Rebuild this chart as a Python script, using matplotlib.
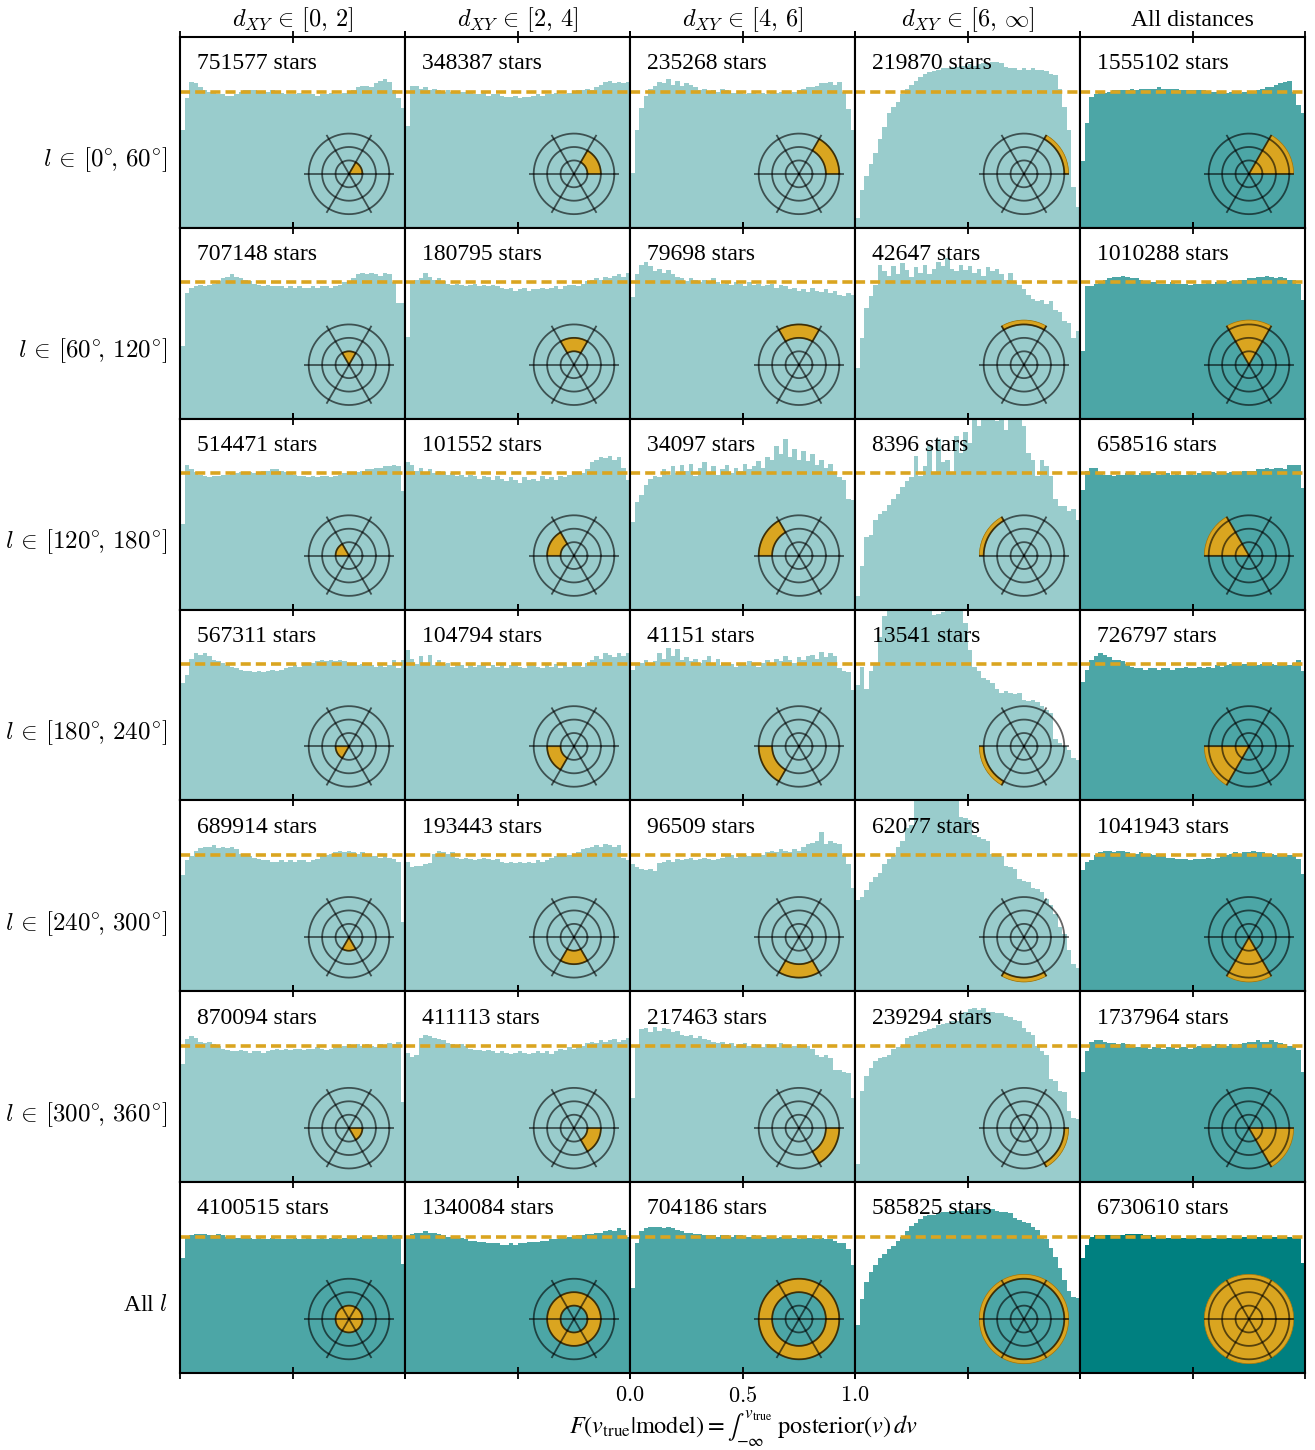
import numpy as np
import matplotlib.pyplot as plt

plt.rcParams['font.family'] = 'serif'
plt.rcParams['font.serif'] = ['Liberation Serif', 'DejaVu Serif']
plt.rcParams['mathtext.fontset'] = 'cm'

col_titles = [r'$d_{XY} \,\in\, [0,\, 2]$', r'$d_{XY} \,\in\, [2,\, 4]$', r'$d_{XY} \,\in\, [4,\, 6]$',
              r'$d_{XY} \,\in\, [6,\, \infty]$', 'All distances']
row_titles = [r'$l \,\in\, [0^{\circ}\!,\, 60^{\circ}]$', r'$l \,\in\, [60^{\circ}\!,\, 120^{\circ}]$',
              r'$l \,\in\, [120^{\circ}\!,\, 180^{\circ}]$', r'$l \,\in\, [180^{\circ}\!,\, 240^{\circ}]$',
              r'$l \,\in\, [240^{\circ}\!,\, 300^{\circ}]$', r'$l \,\in\, [300^{\circ}\!,\, 360^{\circ}]$',
              r'All $l$']
x_label = r'$F(v_{\rm true}|{\rm model}) = \int_{-\infty}^{v_{\rm true}}\ {\rm posterior}(v)\,dv$'

# radial (kpc) and azimuthal (deg) ranges of each cell, None = all
d_ranges = [(0, 2), (2, 4), (4, 6), (6, np.inf), None]
l_ranges = [(0, 60), (60, 120), (120, 180), (180, 240), (240, 300), (300, 360), None]

n_stars = [
    [751577, 348387, 235268, 219870, 1555102],
    [707148, 180795, 79698, 42647, 1010288],
    [514471, 101552, 34097, 8396, 658516],
    [567311, 104794, 41151, 13541, 726797],
    [689914, 193443, 96509, 62077, 1041943],
    [870094, 411113, 217463, 239294, 1737964],
    [4100515, 1340084, 704186, 585825, 6730610],
]

# histogram densities (x100), 50 bins on [0, 1]
H00 = [72,95,107,106,103,101,100,99,98,98,97,97,98,100,101,101,101,100,100,100,101,100,99,98,98,98,99,98,98,98,97,98,98,99,98,98,99,100,101,103,104,104,103,106,108,109,107,101,95,88]
H01 = [75,104,104,102,103,101,102,101,100,101,100,99,100,100,99,98,98,99,97,98,98,97,96,96,97,95,96,96,97,98,97,98,98,99,98,98,99,100,101,101,102,101,103,105,107,108,106,107,106,107]
H02 = [40,72,88,97,102,104,107,106,109,105,108,104,106,105,103,101,102,100,101,100,102,101,99,99,100,98,99,99,98,99,98,99,99,100,100,99,100,101,102,103,103,104,106,106,107,105,107,100,87,72]
H03 = [7,28,38,47,55,65,74,84,89,92,98,102,105,108,111,113,114,115,116,117,117,118,118,119,119,120,119,120,121,121,122,122,121,118,117,117,116,117,116,117,116,116,115,113,112,102,89,72,30,15]
H04 = [49,77,96,98,99,99,100,101,101,101,101,102,101,102,102,102,102,103,102,102,102,102,101,101,101,101,101,101,100,100,100,100,99,100,100,99,100,100,100,101,102,103,103,105,106,107,108,100,90,84]

H10 = [53,92,96,97,98,97,98,99,101,103,104,106,104,103,102,101,99,98,97,98,97,97,97,96,97,96,97,96,96,97,96,97,97,96,97,98,100,101,103,106,107,106,107,106,105,107,106,100,85,85]
H11 = [60,101,102,103,107,104,102,103,101,99,98,99,98,97,98,99,97,98,97,98,97,96,95,96,94,95,96,94,95,95,96,95,96,97,95,97,98,98,97,99,101,102,103,102,104,103,105,106,104,107]
H12 = [89,106,113,115,112,108,110,107,109,106,104,103,101,103,102,100,102,101,103,100,99,101,98,100,99,97,100,98,99,97,98,99,96,98,97,95,96,94,95,93,96,94,93,95,92,94,91,90,92,91]
H13 = [37,59,81,90,98,113,108,105,112,106,114,109,104,111,107,113,106,110,115,112,118,110,108,113,109,112,107,110,105,111,108,110,106,102,107,100,98,95,91,88,86,87,84,86,80,78,72,70,59,64]
H14 = [50,97,97,99,101,102,103,104,104,105,104,103,103,102,101,100,100,99,99,99,100,99,99,99,98,99,99,99,100,99,100,100,100,101,101,102,102,103,103,104,104,105,104,103,104,103,102,102,99,87]

H20 = [63,106,103,101,99,98,97,98,98,99,99,100,100,101,100,101,100,101,102,102,103,103,102,101,100,99,98,98,97,98,97,98,98,97,98,99,100,100,101,101,102,103,103,104,104,105,105,106,105,87]
H21 = [108,106,102,104,101,103,100,102,101,99,100,98,99,97,99,98,96,98,97,95,98,96,94,97,95,93,97,95,96,94,98,96,97,95,98,97,99,100,101,100,103,108,110,112,111,113,110,112,104,95]
H22 = [64,79,84,91,96,98,97,103,99,105,100,106,102,107,98,104,108,101,105,99,103,106,100,104,102,107,103,105,109,104,112,110,120,114,125,112,118,110,116,109,114,106,110,104,107,101,97,95,81,80]
H23 = [10,32,53,55,66,70,72,77,81,85,90,94,97,113,98,105,120,100,125,108,110,100,127,115,130,122,145,135,150,142,155,138,148,132,150,140,145,135,115,110,98,110,105,98,81,76,76,72,74,66]
H24 = [88,102,104,104,101,99,99,98,99,99,100,100,99,100,101,100,100,99,100,100,99,100,99,99,100,99,100,100,100,101,100,101,100,101,100,101,102,102,102,103,103,104,103,104,104,103,106,106,106,89]

H30 = [86,92,104,108,107,108,106,103,102,101,99,98,97,96,95,95,94,95,94,95,96,95,96,97,98,99,98,99,100,101,102,103,102,103,102,103,102,101,100,99,100,99,99,98,99,98,99,103,97,103]
H31 = [110,104,100,106,101,107,99,103,100,101,98,100,99,97,100,98,99,101,97,99,98,100,97,99,100,98,97,100,99,98,97,99,98,100,97,99,98,99,100,98,101,103,106,104,108,107,105,108,106,108]
H32 = [96,99,101,103,100,102,108,104,112,106,111,103,105,102,104,101,103,106,100,104,99,101,100,98,101,99,102,100,98,101,103,101,104,102,106,103,101,105,103,106,107,104,109,105,108,106,97,95,94,81]
H33 = [85,98,82,95,100,120,135,145,150,148,152,147,150,146,149,151,145,136,137,138,150,147,149,145,130,110,98,95,90,88,86,82,79,80,79,78,79,74,73,74,72,69,66,64,45,42,40,37,31,30]
H34 = [87,96,103,106,108,107,105,103,103,102,100,98,97,97,96,97,97,96,97,97,96,97,97,98,97,97,98,97,98,97,99,98,99,100,99,99,100,99,100,99,100,99,100,99,99,100,99,101,103,95]

H40 = [85,96,99,103,105,106,106,107,105,106,105,106,104,101,100,99,98,97,96,96,95,95,96,95,96,95,96,96,95,96,97,99,100,101,102,103,102,103,102,101,102,100,99,99,98,99,98,97,95,51]
H41 = [95,91,92,92,93,94,101,103,102,101,102,98,97,98,97,96,97,98,97,96,97,95,94,95,94,95,94,95,94,96,95,96,98,99,100,99,100,101,102,104,105,106,107,106,108,107,106,107,98,96]
H42 = [93,91,90,89,90,88,94,95,96,95,97,96,97,98,96,97,98,97,96,97,98,99,100,98,99,100,99,101,99,100,102,103,102,104,103,102,104,103,106,108,109,110,117,108,110,109,108,100,93,76]
H43 = [67,69,74,80,84,87,93,97,100,106,110,120,122,145,148,150,147,152,149,146,151,148,145,128,127,126,115,113,112,110,101,100,99,92,91,90,82,81,80,76,75,73,68,63,57,47,42,30,20,17]
H44 = [89,95,96,100,102,103,103,102,103,103,102,101,101,102,101,101,100,100,99,98,98,97,97,97,96,97,97,97,98,97,98,99,100,101,102,101,102,102,103,102,102,101,101,100,100,101,100,100,97,86]

H50 = [87,105,107,106,103,102,103,101,100,98,97,96,96,97,96,95,96,96,95,96,97,98,97,98,97,98,98,97,98,98,99,98,97,98,99,99,100,101,100,101,100,101,100,99,101,100,102,101,103,59]
H51 = [95,92,93,106,108,107,106,105,104,102,101,100,101,100,98,97,97,96,97,96,95,96,95,94,95,96,95,94,95,96,95,96,94,96,98,97,99,98,99,100,102,103,102,104,103,104,105,103,104,106]
H52 = [62,100,112,113,110,114,111,113,112,110,111,108,107,108,106,107,105,104,103,102,103,101,102,100,101,102,100,101,100,99,101,100,99,102,100,99,100,101,99,100,98,93,92,93,91,82,82,81,80,62]
H53 = [13,67,78,84,89,91,92,93,98,99,100,106,107,108,110,111,112,113,115,116,117,118,118,123,125,127,128,126,128,125,125,124,124,122,121,119,118,113,110,108,100,96,93,76,74,67,66,52,47,46]
H54 = [81,96,103,104,104,103,102,102,101,102,101,100,99,99,99,98,99,99,98,99,99,98,99,99,98,99,100,100,99,100,101,100,100,101,100,101,102,103,103,104,103,103,104,103,102,101,100,100,97,81]

H60 = [84,100,101,102,102,102,101,101,102,101,100,100,99,99,99,99,98,99,98,98,99,98,98,98,98,99,98,98,99,98,98,99,98,99,99,98,99,99,99,99,100,100,100,100,101,100,101,100,101,80]
H61 = [100,102,103,103,104,103,103,102,101,100,100,99,99,98,97,97,96,96,95,95,95,94,94,95,94,95,95,96,96,96,97,97,98,98,99,99,100,100,101,101,102,102,103,103,104,105,104,106,105,100]
H62 = [62,95,104,106,107,107,107,106,107,106,105,104,103,103,102,102,101,101,101,100,101,101,100,101,101,100,100,101,100,100,100,99,99,100,99,99,99,98,99,99,99,98,99,98,98,97,95,95,91,79]
H63 = [35,54,67,74,79,84,87,91,93,97,100,104,108,110,113,115,116,116,117,118,118,119,119,119,119,120,120,120,120,120,120,119,118,118,117,114,112,111,110,107,105,100,98,92,85,77,68,60,56,55]
H64 = [84,94,100,101,101,101,101,101,101,101,102,102,102,102,101,101,100,100,99,99,99,99,99,99,99,99,99,99,99,99,99,99,99,99,99,99,100,100,100,100,100,100,100,100,100,100,100,99,99,81]

hists = [
    [H00, H01, H02, H03, H04],
    [H10, H11, H12, H13, H14],
    [H20, H21, H22, H23, H24],
    [H30, H31, H32, H33, H34],
    [H40, H41, H42, H43, H44],
    [H50, H51, H52, H53, H54],
    [H60, H61, H62, H63, H64],
]

teal = '#008080'
gold = 'goldenrod'
R_MAX = 6.7
edges = np.linspace(0, 1, 51)

fig, axes = plt.subplots(7, 5, figsize=(13.15, 14.5), dpi=100)
fig.subplots_adjust(left=0.1369, right=0.9924, top=0.9745, bottom=0.0531, hspace=0, wspace=0)

theta = np.linspace(0, 2 * np.pi, 300)

for i in range(7):
    for j in range(5):
        ax = axes[i, j]
        alpha = 0.4
        if i == 6 or j == 4:
            alpha = 0.7
        if i == 6 and j == 4:
            alpha = 1.0
        ax.stairs(np.array(hists[i][j]) / 100, edges, fill=True, color=teal, alpha=alpha, lw=0)
        ax.axhline(1, color=gold, lw=2.6, ls=(0, (2.8, 1.4)))
        ax.text(0.075, 0.86, f'{n_stars[i][j]} stars', transform=ax.transAxes,
                fontsize=17, va='center', ha='left')
        ax.set_xlim(0, 1)
        ax.set_ylim(0, 1.4)
        ax.set_xticks([0, 0.5, 1])
        ax.set_yticks([])
        ax.tick_params(axis='x', direction='inout', top=True, bottom=True,
                       length=8, width=1.3, labelbottom=False)
        for s in ax.spines.values():
            s.set_linewidth(1.5)

        if i == 0:
            ax.set_title(col_titles[j], fontsize=17.5 if j < 4 else 17, pad=8)
        if j == 0:
            ax.set_ylabel(row_titles[i], rotation=0, ha='right', va='center',
                          fontsize=18 if i < 6 else 17)
            ax.yaxis.set_label_coords(-0.055, 0.355)

        # little map of the selected region of the disc
        pax = ax.inset_axes([0.551, 0.047, 0.4, 0.4716], projection='polar')
        pax.axis('off')
        pax.patch.set_alpha(0)
        if d_ranges[j] is None:
            r1, r2 = 0, R_MAX
        else:
            r1, r2 = d_ranges[j][0], min(d_ranges[j][1], R_MAX)
        if l_ranges[i] is None:
            t1, t2 = 0, 2 * np.pi
        else:
            t1, t2 = np.radians(l_ranges[i][0]), np.radians(l_ranges[i][1])
        pax.bar((t1 + t2) / 2, r2 - r1, width=t2 - t1, bottom=r1, color=gold,
                edgecolor='#9a7410', linewidth=1.0)
        for r in [2, 4, 6]:
            pax.plot(theta, np.full_like(theta, r), color='k', alpha=0.6, lw=1.3)
        for a in np.radians(np.arange(0, 360, 60)):
            pax.plot([a, a], [0, R_MAX], color='k', alpha=0.6, lw=1.3)
        pax.set_ylim(0, R_MAX)

axes[6, 2].tick_params(axis='x', labelbottom=True, labelsize=16, pad=6)
axes[6, 2].set_xticklabels([r'$0.0$', r'$0.5$', r'$1.0$'])

# stix math keeps the integral sign at text size
fig.text(0.565, 0.0148, x_label, fontsize=17.5, ha='center', va='center',
         math_fontfamily='stix')

fig.savefig('out.png', dpi=100)
